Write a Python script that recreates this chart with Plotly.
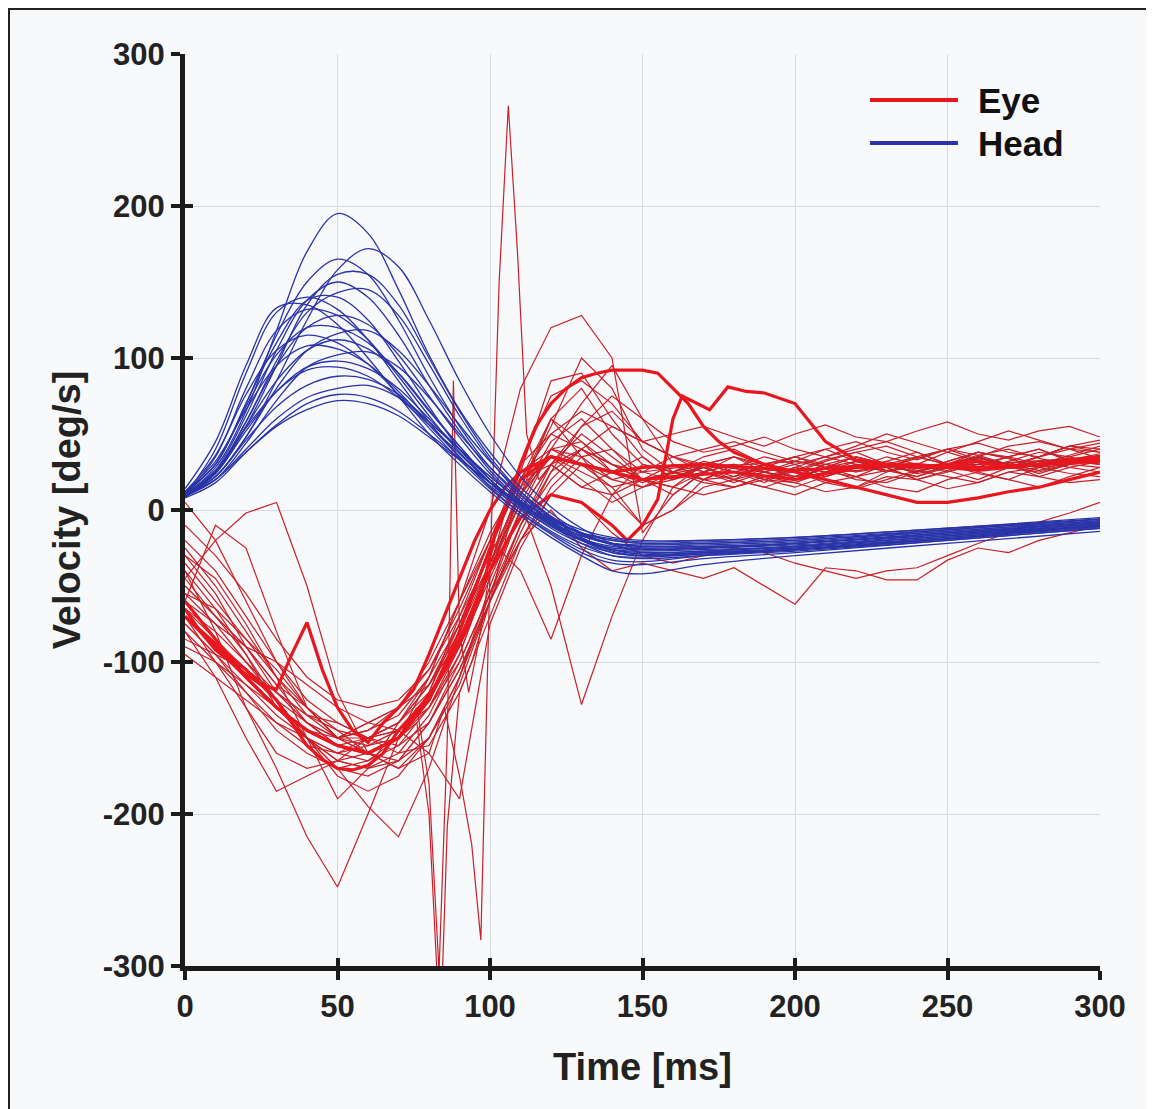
import plotly.graph_objects as go

# ---------------- data ----------------
T_HEAD = [0, 10, 20, 30, 40, 50, 60, 70, 80, 90, 100, 110, 120, 130, 140, 150, 170, 200, 250, 300]
HEAD_VEL = [
    [10, 28, 65, 118, 170, 195, 182, 145, 102, 66, 38, 15, -2, -15, -22, -25, -24, -22, -15, -8],
    [10, 22, 48, 85, 125, 158, 172, 160, 125, 85, 50, 22, 2, -12, -22, -28, -27, -24, -17, -9],
    [12, 30, 70, 115, 150, 165, 155, 125, 88, 55, 28, 8, -8, -20, -28, -30, -28, -25, -18, -10],
    [10, 24, 55, 95, 135, 155, 155, 135, 100, 65, 35, 12, -5, -18, -26, -29, -28, -26, -19, -11],
    [8, 26, 62, 105, 138, 150, 140, 115, 82, 52, 26, 6, -10, -22, -30, -32, -30, -27, -20, -12],
    [12, 30, 70, 110, 138, 140, 125, 98, 68, 40, 18, 0, -14, -24, -30, -31, -29, -26, -19, -11],
    [10, 40, 90, 130, 140, 132, 112, 85, 58, 35, 15, -2, -16, -28, -35, -36, -32, -28, -20, -12],
    [14, 45, 95, 133, 135, 122, 100, 75, 50, 30, 12, -4, -18, -30, -40, -42, -36, -30, -22, -14],
    [10, 35, 80, 118, 132, 128, 112, 88, 62, 38, 18, 2, -12, -22, -28, -30, -28, -26, -19, -11],
    [9, 25, 58, 95, 120, 128, 122, 102, 75, 48, 24, 5, -9, -20, -26, -27, -26, -24, -17, -9],
    [11, 30, 68, 102, 120, 120, 110, 90, 65, 42, 20, 3, -10, -20, -26, -28, -27, -24, -17, -10],
    [10, 22, 48, 80, 105, 116, 118, 105, 82, 56, 32, 12, -4, -16, -23, -26, -25, -23, -16, -8],
    [10, 25, 55, 85, 105, 112, 106, 90, 66, 42, 20, 3, -10, -19, -24, -26, -25, -22, -15, -8],
    [12, 32, 66, 95, 108, 106, 96, 78, 56, 35, 16, 1, -11, -20, -25, -26, -25, -22, -16, -9],
    [9, 20, 44, 72, 94, 102, 104, 94, 74, 50, 28, 10, -5, -16, -22, -24, -24, -22, -15, -8],
    [10, 24, 52, 78, 94, 98, 93, 80, 60, 40, 20, 4, -8, -17, -22, -24, -23, -21, -14, -7],
    [11, 26, 54, 78, 92, 94, 88, 74, 56, 37, 18, 3, -9, -17, -22, -23, -22, -20, -13, -6],
    [10, 22, 46, 68, 82, 88, 86, 76, 58, 40, 22, 6, -6, -15, -20, -22, -21, -19, -13, -6],
    [9, 20, 40, 60, 74, 80, 82, 74, 58, 40, 22, 6, -6, -15, -20, -22, -22, -20, -14, -7],
    [8, 18, 38, 56, 70, 76, 74, 65, 50, 34, 18, 4, -7, -15, -19, -21, -20, -18, -12, -6],
    [10, 20, 38, 55, 66, 72, 70, 62, 48, 33, 18, 5, -5, -13, -18, -20, -20, -18, -12, -5],
    [10, 25, 58, 98, 130, 143, 145, 128, 96, 62, 33, 10, -7, -19, -27, -30, -29, -26, -19, -10],
    [12, 36, 76, 105, 115, 110, 96, 76, 54, 33, 14, -2, -15, -26, -33, -34, -30, -26, -18, -10],
]

T_EYE = [0, 10, 20, 30, 40, 50, 60, 70, 80, 90, 100, 110, 120, 130, 140, 150,
         160, 170, 180, 190, 200, 210, 220, 230, 240, 250, 260, 270, 280, 290, 300]
EYE_VEL = [
    [-30, -55, -90, -120, -140, -155, -160, -150, -120, -70, -20, 25, 40, 30, 20, 25, 35, 28, 22, 30, 35, 28, 25, 32, 38, 30, 28, 35, 40, 32, 30],
    [-50, -70, -95, -130, -150, -165, -170, -160, -135, -95, -40, 10, 45, 60, 40, 25, 20, 30, 35, 25, 20, 28, 35, 30, 25, 30, 38, 34, 28, 30, 35],
    [-70, -100, -120, -145, -160, -170, -165, -150, -125, -85, -35, 15, 35, 25, 15, 20, 30, 25, 18, 25, 32, 28, 22, 30, 35, 40, 33, 28, 35, 42, 38],
    [5, -20, -60, -100, -130, -150, -145, -130, -100, -60, -15, 20, 30, 15, 10, 20, 25, 18, 15, 22, 28, 20, 15, 25, 30, 26, 20, 28, 32, 28, 25],
    [-45, -20, -2, 5, -50, -120, -160, -170, -150, -110, -55, 0, 30, 40, 25, 18, 25, 32, 28, 20, 26, 33, 38, 30, 24, 28, 35, 30, 26, 32, 36],
    [-60, -10, -25, -80, -130, -150, -140, -130, -115, -85, -40, 10, 60, 80, 50, 30, 25, 35, 40, 30, 25, 32, 38, 42, 35, 30, 36, 40, 34, 30, 35],
    [-80, -110, -150, -185, -175, -165, -150, -140, -120, -75, -25, 25, 85, 90, 60, 35, 20, 25, 30, 22, 18, 25, 30, 26, 22, 28, 34, 30, 26, 30, 34],
    [-40, -80, -130, -170, -215, -248, -200, -150, -110, -75, -35, 5, 40, 35, 20, 15, 22, 28, 20, 15, 22, 27, 20, 18, 25, 30, 24, 20, 28, 33, 30],
    [-60, -85, -110, -130, -150, -170, -195, -215, -170, -110, -50, 0, 30, 50, 35, 20, 15, 25, 30, 20, 15, 22, 30, 28, 20, 25, 32, 30, 22, 28, 32],
    [-70, -90, -110, -130, -150, -165, -170, -165, -140, -100, -55, -20, 0, -25, -40, -35, -40, -45, -38, -50, -62, -38, -40, -46, -46, -33, -25, -28, -20, -15, -10],
    [-20, -40, -70, -100, -125, -140, -150, -155, -140, -105, -60, -20, 10, 5, -15, -30, -35, -30, -25, -28, -35, -40, -45, -40, -38, -30, -22, -15, -8, -2, 5],
    [-90, -100, -115, -135, -150, -160, -165, -155, -130, -90, -40, 15, 55, 100, 80, 40, 25, 30, 35, 28, 22, 30, 35, 30, 25, 32, 38, 34, 28, 35, 40],
    [-55, -75, -100, -125, -140, -150, -145, -135, -110, -60, 0, 80, 120, 128, 100, -15, 10, 25, 20, 30, 25, 22, 28, 35, 30, 25, 30, 35, 40, 33, 36],
    [-35, -60, -85, -110, -130, -150, -155, -150, -130, -95, -40, 5, -50, -128, -70, -20, 15, 30, 25, 20, 28, 35, 30, 25, 30, 38, 32, 28, 35, 40, 34],
    [-65, -80, -100, -120, -140, -155, -150, -140, -110, -60, -20, -40, -85, -30, 10, 30, 25, 20, 28, 35, 30, 22, 28, 32, 26, 30, 35, 30, 28, 33, 37],
    [-25, -50, -80, -110, -135, -150, -160, -165, -150, -115, -60, -10, 20, 40, 55, 45, 35, 25, 20, 25, 30, 35, 40, 45, 38, 30, 35, 42, 45, 40, 38],
    [-75, -95, -115, -130, -145, -150, -150, -145, -125, -85, -40, 10, 40, 70, 95, 60, 30, 20, 22, 28, 35, 30, 25, 28, 35, 30, 26, 32, 38, 35, 30],
    [-45, -70, -90, -100, -115, -130, -140, -145, -130, -100, -55, -10, 25, 40, 30, 20, 15, 10, 15, 20, 18, 12, 15, 22, 20, 14, 18, 25, 22, 18, 20],
    [-85, -95, -105, -125, -150, -175, -185, -175, -150, -110, -60, -10, 30, 55, 65, 45, 35, 40, 45, 38, 32, 40, 45, 38, 33, 40, 44, 38, 35, 42, 46],
    [-10, -30, -55, -85, -110, -125, -130, -125, -105, -70, -30, 10, 35, 20, 5, 15, 25, 20, 15, 22, 25, 18, 14, 20, 26, 22, 18, 25, 28, 24, 22],
    [-55, -65, -85, -105, -130, -145, -160, -170, -160, -190, -75, -25, 10, 30, 15, -10, 0, 15, 20, 15, 10, 18, 22, 15, 12, 20, 25, 20, 15, 22, 28],
    [-95, -110, -125, -140, -155, -160, -155, -145, -125, -90, -45, 0, 40, 45, 25, 15, 20, 28, 30, 25, 20, 28, 32, 26, 22, 30, 35, 28, 25, 30, 36],
    [-30, -45, -75, -110, -150, -190, -170, -140, -115, -80, -35, 15, 60, 35, 10, -10, 0, 20, 30, 25, 20, 28, 35, 30, 25, 32, 38, 35, 30, 36, 42],
    [-60, -75, -90, -115, -140, -150, -140, -130, -105, -65, -20, 30, 75, 85, 70, 45, 35, 30, 25, 30, 35, 40, 32, 28, 34, 40, 36, 30, 35, 42, 40],
    [-65, -85, -105, -120, -135, -140, -150, -160, -155, -120, -70, -20, 15, 35, 40, 20, 10, 25, 35, 30, 20, 25, 32, 28, 20, 26, 34, 30, 24, 30, 35],
    [-70, -90, -105, -120, -135, -145, -150, -140, -115, -75, -25, 20, 50, 65, 55, 45, 50, 55, 48, 42, 50, 56, 48, 45, 52, 58, 50, 46, 52, 55, 48],
    [-40, -65, -95, -125, -150, -170, -175, -165, -140, -105, -60, -15, 25, 55, 75, 60, 45, 38, 42, 48, 40, 35, 42, 50, 44, 38, 45, 52, 46, 40, 44],
]

# Eye traces with fast saccadic spikes (own sample times)
SPIKE1_T = [0, 10, 20, 30, 40, 50, 60, 70, 80, 85, 90, 94, 97, 100, 103, 106, 109, 112, 116, 120,
            130, 140, 150, 160, 170, 180, 190, 200, 220, 240, 260, 280, 300]
SPIKE1_V = [-75, -95, -120, -140, -150, -160, -150, -145, -160, -130, -175, -220, -283, -40, 150, 266, 170, 50, 20, 30,
            15, 25, 35, 20, 30, 25, 18, 28, 22, 30, 26, 32, 28]
SPIKE2_T = [0, 10, 20, 30, 40, 50, 60, 70, 76, 80, 83, 86, 88, 90, 93, 96, 100, 105, 110, 120,
            130, 140, 150, 170, 200, 230, 260, 300]
SPIKE2_V = [-50, -70, -90, -115, -130, -150, -160, -150, -140, -200, -320, -150, 85, -80, -120, -90, -40, 0, 30, 50,
            40, 30, 25, 30, 22, 28, 30, 35]
SPIKE3_T = [0, 10, 20, 30, 40, 50, 60, 70, 76, 80, 84, 86, 90, 94, 100, 105, 110, 120,
            130, 140, 150, 170, 200, 230, 260, 300]
SPIKE3_V = [-80, -100, -130, -160, -170, -165, -160, -150, -130, -180, -330, -208, -120, -100, -60, -20, 20, 60,
            45, 30, 20, 28, 32, 26, 30, 34]

# Emphasised (thick) eye traces
THICK_A_T = [0, 10, 20, 30, 40, 50, 60, 70, 80, 90, 100, 105, 110, 115, 120, 125, 130, 135, 140, 145, 150, 155,
             160, 165, 170, 175, 180, 190, 200, 210, 220, 230, 240, 250, 260, 270, 280, 290, 300]
THICK_A_V = [-70, -90, -110, -130, -145, -155, -160, -150, -125, -80, -25, 0, 30, 55, 70, 80, 87, 90, 92, 92, 92, 90,
             80, 70, 55, 45, 38, 30, 25, 20, 15, 10, 5, 5, 8, 12, 15, 20, 25]
THICK_B_T = [0, 10, 20, 30, 40, 50, 60, 70, 80, 90, 100, 110, 120, 130, 140, 145, 150, 155, 160, 163, 168, 172,
             178, 184, 190, 200, 210, 220, 230, 240, 250, 260, 270, 280, 290, 300]
THICK_B_V = [-60, -85, -110, -130, -145, -155, -160, -150, -125, -85, -40, -5, 10, 5, -10, -20, -10, 7, 60, 75, 70, 66,
             81, 78, 77, 70, 45, 33, 30, 28, 30, 32, 28, 30, 33, 35]
THICK_C_T = [0, 5, 10, 15, 20, 25, 30, 35, 40, 45, 50, 55, 60, 65, 70, 75, 80, 85, 90, 95, 100, 105, 110,
             120, 130, 140, 150, 160, 180, 200, 220, 240, 260, 280, 300]
THICK_C_V = [-65, -80, -92, -100, -108, -115, -118, -95, -74, -105, -130, -145, -153, -140, -130, -118, -95, -70, -45, -20,
             0, 15, 25, 35, 30, 25, 20, 22, 25, 20, 28, 30, 26, 30, 33]
THICK_D_T = [0, 10, 20, 30, 40, 45, 50, 55, 60, 65, 70, 75, 80, 86, 92, 97, 102, 110, 120, 130, 140, 150,
             170, 200, 230, 260, 300]
THICK_D_V = [-70, -88, -105, -125, -155, -164, -170, -171, -168, -160, -145, -134, -122, -103, -80, -57, -13, 20, 35, 30,
             25, 28, 30, 26, 30, 28, 32]

X_TICKS = [0, 50, 100, 150, 200, 250, 300]
Y_TICKS = [-300, -200, -100, 0, 100, 200, 300]
Y_TICK_TEXT = ["-300", "-200", "-100", "0", "100", "200", "300"]

# ---------------- styles ----------------
RED_THIN = "rgb(200,32,40)"
RED_THICK = "rgb(232,22,30)"
BLUE = "rgb(42,52,168)"
INK = "#1c1c1c"
FONT = "Liberation Sans, Arial, sans-serif"

fig = go.Figure()

for v in EYE_VEL:
    fig.add_trace(go.Scatter(x=T_EYE, y=v, mode="lines", line=dict(color=RED_THIN, width=1.2),
                             showlegend=False, hoverinfo="skip"))
for t, v in [(SPIKE1_T, SPIKE1_V), (SPIKE2_T, SPIKE2_V), (SPIKE3_T, SPIKE3_V)]:
    fig.add_trace(go.Scatter(x=t, y=v, mode="lines", line=dict(color=RED_THIN, width=1.2),
                             showlegend=False, hoverinfo="skip"))
for t, v in [(THICK_A_T, THICK_A_V), (THICK_B_T, THICK_B_V), (THICK_C_T, THICK_C_V), (THICK_D_T, THICK_D_V)]:
    fig.add_trace(go.Scatter(x=t, y=v, mode="lines", line=dict(color=RED_THICK, width=3.2),
                             showlegend=False, hoverinfo="skip"))
for v in HEAD_VEL:
    fig.add_trace(go.Scatter(x=T_HEAD, y=v, mode="lines", line=dict(color=BLUE, width=1.3, shape="spline"),
                             showlegend=False, hoverinfo="skip"))

# overlay axes to draw the inner half of the crossing tick marks
fig.add_trace(go.Scatter(x=[None], y=[None], xaxis="x2", yaxis="y2", showlegend=False, hoverinfo="skip"))

# the page body adds an 8px offset; figure is sized so the plot lands where the reference has it
OFF = 8
W, H = 1146, 1101
L, T = 185 - OFF, 54 - OFF
pw, ph = 915, 912
R, B = W - L - pw, H - T - ph


def px_x(p):
    return (p - OFF - L) / pw


def px_y(p):
    return (T + ph - (p - OFF)) / ph


axis_common = dict(showline=True, linewidth=5, linecolor=INK, ticks="outside", ticklen=9, tickwidth=4,
                   tickcolor=INK, showgrid=True, gridcolor="#d6dce6", gridwidth=1, zeroline=False,
                   tickfont=dict(family=FONT, size=31, color="#222222", weight="bold"))

fig.update_layout(
    width=W, height=H,
    margin=dict(l=L, r=R, t=T, b=B, autoexpand=False),
    paper_bgcolor="#ffffff",
    plot_bgcolor="#fdfdfe",
    showlegend=False,
    xaxis=dict(range=[0, 300], tickvals=X_TICKS, **axis_common,
               title=dict(text="<b>Time [ms]</b>", font=dict(family=FONT, size=38, color="#222222"), standoff=32)),
    yaxis=dict(range=[-300, 300], tickvals=Y_TICKS, ticktext=Y_TICK_TEXT, **axis_common,
               title=dict(text="<b>Velocity [deg/s]</b>", font=dict(family=FONT, size=38, color="#222222"), standoff=12)),
    xaxis2=dict(range=[0, 300], tickvals=X_TICKS, overlaying="x", anchor="y2", side="bottom", ticks="inside",
                ticklen=8, tickwidth=4, tickcolor=INK, showticklabels=False, showgrid=False, showline=False,
                zeroline=False),
    yaxis2=dict(range=[-300, 300], tickvals=Y_TICKS, overlaying="y", anchor="x2", side="left", ticks="inside",
                ticklen=8, tickwidth=4, tickcolor=INK, showticklabels=False, showgrid=False, showline=False,
                zeroline=False),
    shapes=[
        dict(type="rect", xref="paper", yref="paper", x0=px_x(9), x1=px_x(1175), y0=px_y(1130), y1=px_y(9),
             line=dict(color="#222222", width=2), fillcolor="#f8f9fb", layer="below"),
        dict(type="line", xref="paper", yref="paper", x0=px_x(870), x1=px_x(958), y0=px_y(100), y1=px_y(100),
             line=dict(color=RED_THICK, width=4)),
        dict(type="line", xref="paper", yref="paper", x0=px_x(870), x1=px_x(958), y0=px_y(143), y1=px_y(143),
             line=dict(color=BLUE, width=4)),
    ],
    annotations=[
        dict(xref="paper", yref="paper", x=px_x(976), y=px_y(100), text="<b>Eye</b>", showarrow=False,
             xanchor="left", yanchor="middle", font=dict(family=FONT, size=35, color="#111111")),
        dict(xref="paper", yref="paper", x=px_x(976), y=px_y(143), text="<b>Head</b>", showarrow=False,
             xanchor="left", yanchor="middle", font=dict(family=FONT, size=35, color="#111111")),
    ],
)

fig.write_html("out.html")
